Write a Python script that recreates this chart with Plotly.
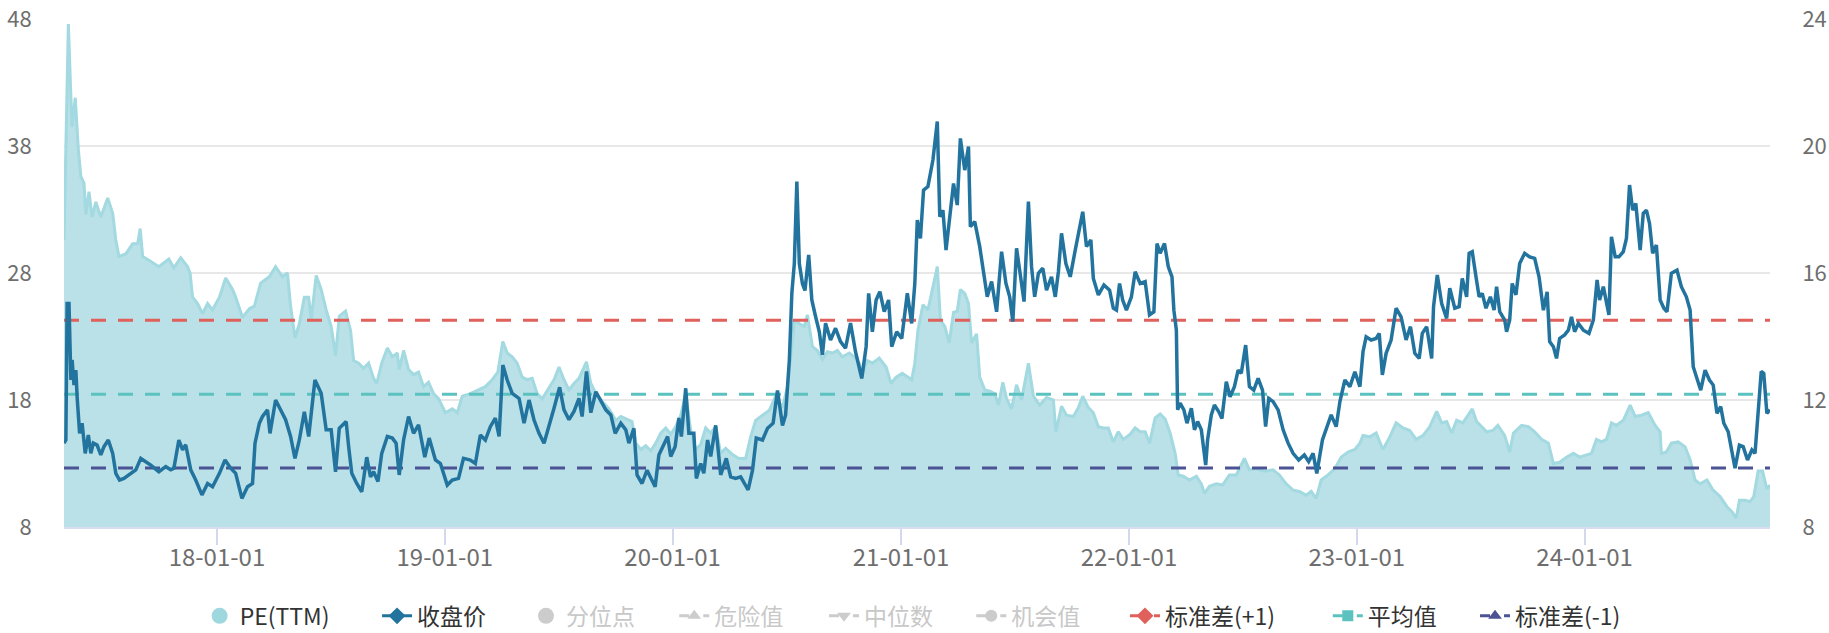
import plotly.graph_objects as go

# ---- PE(TTM) series (left axis) ----
pe_dates = [
    "2017-05-01", "2017-05-08", "2017-05-12", "2017-05-14", "2017-05-19", "2017-05-24", "2017-05-28",
    "2017-06-02", "2017-06-05", "2017-06-10", "2017-06-15", "2017-06-21", "2017-06-29", "2017-07-10",
    "2017-07-18", "2017-07-23", "2017-07-28", "2017-08-08", "2017-08-19", "2017-08-27", "2017-08-31",
    "2017-09-04", "2017-09-14", "2017-09-30", "2017-10-16", "2017-10-24", "2017-11-04", "2017-11-15",
    "2017-11-19", "2017-11-23", "2017-12-01", "2017-12-09", "2017-12-17", "2017-12-25", "2018-01-05",
    "2018-01-15", "2018-01-26", "2018-01-31", "2018-02-11", "2018-02-22", "2018-03-02", "2018-03-12",
    "2018-03-26", "2018-04-05", "2018-04-16", "2018-04-24", "2018-04-29", "2018-05-06", "2018-05-13",
    "2018-05-21", "2018-05-28", "2018-06-01", "2018-06-09", "2018-06-17", "2018-06-25", "2018-07-03",
    "2018-07-10", "2018-07-16", "2018-07-26", "2018-08-03", "2018-08-08", "2018-08-16", "2018-08-24",
    "2018-09-01", "2018-09-09", "2018-09-14", "2018-09-22", "2018-10-01", "2018-10-09", "2018-10-17",
    "2018-10-20", "2018-10-27", "2018-11-04", "2018-11-12", "2018-11-20", "2018-11-28", "2018-12-06",
    "2018-12-14", "2018-12-22", "2019-01-02", "2019-01-13", "2019-01-21", "2019-01-29", "2019-02-11",
    "2019-02-24", "2019-03-07", "2019-03-18", "2019-03-27", "2019-04-04", "2019-04-11", "2019-04-19",
    "2019-04-27", "2019-05-05", "2019-05-13", "2019-05-21", "2019-05-29", "2019-06-06", "2019-06-14",
    "2019-06-25", "2019-07-03", "2019-07-11", "2019-07-19", "2019-07-27", "2019-08-04", "2019-08-16",
    "2019-08-23", "2019-08-31", "2019-09-10", "2019-09-21", "2019-10-02", "2019-10-10", "2019-10-28",
    "2019-11-03", "2019-11-11", "2019-11-19", "2019-11-27", "2019-12-05", "2019-12-13", "2019-12-21",
    "2019-12-29", "2020-01-06", "2020-01-14", "2020-01-22", "2020-01-30", "2020-02-07", "2020-02-15",
    "2020-02-23", "2020-03-02", "2020-03-10", "2020-03-18", "2020-03-26", "2020-04-06", "2020-04-16",
    "2020-04-27", "2020-05-05", "2020-05-13", "2020-05-24", "2020-06-04", "2020-06-14", "2020-06-25",
    "2020-07-03", "2020-07-08", "2020-07-14", "2020-07-22", "2020-07-30", "2020-08-04", "2020-08-12",
    "2020-08-20", "2020-08-28", "2020-09-05", "2020-09-13", "2020-09-21", "2020-09-29", "2020-10-10",
    "2020-10-18", "2020-10-26", "2020-10-31", "2020-11-08", "2020-11-16", "2020-11-27", "2020-12-08",
    "2020-12-16", "2020-12-24", "2021-01-03", "2021-01-18", "2021-01-23", "2021-01-28", "2021-02-05",
    "2021-02-13", "2021-02-21", "2021-02-28", "2021-03-05", "2021-03-12", "2021-03-19", "2021-03-26",
    "2021-04-01", "2021-04-06", "2021-04-13", "2021-04-19", "2021-04-24", "2021-05-02", "2021-05-07",
    "2021-05-15", "2021-05-23", "2021-05-31", "2021-06-06", "2021-06-13", "2021-06-19", "2021-06-27",
    "2021-07-05", "2021-07-13", "2021-07-24", "2021-08-01", "2021-08-11", "2021-08-22", "2021-09-02",
    "2021-09-06", "2021-09-15", "2021-09-23", "2021-10-04", "2021-10-12", "2021-10-19", "2021-10-28",
    "2021-11-05", "2021-11-13", "2021-11-21", "2021-11-29", "2021-12-07", "2021-12-15", "2021-12-23",
    "2022-01-03", "2022-01-11", "2022-01-19", "2022-01-27", "2022-02-03", "2022-02-12", "2022-02-20",
    "2022-02-28", "2022-03-08", "2022-03-16", "2022-03-21", "2022-03-29", "2022-04-08", "2022-04-19",
    "2022-04-27", "2022-05-02", "2022-05-10", "2022-05-21", "2022-05-31", "2022-06-11", "2022-06-22",
    "2022-07-05", "2022-07-13", "2022-07-24", "2022-08-06", "2022-08-20", "2022-08-30", "2022-09-10",
    "2022-09-21", "2022-10-01", "2022-10-12", "2022-10-20", "2022-10-28", "2022-11-05", "2022-11-16",
    "2022-11-27", "2022-12-07", "2022-12-18", "2022-12-29", "2023-01-06", "2023-01-11", "2023-01-22",
    "2023-02-01", "2023-02-12", "2023-02-23", "2023-03-05", "2023-03-16", "2023-03-27", "2023-04-06",
    "2023-04-17", "2023-04-28", "2023-05-09", "2023-05-17", "2023-05-25", "2023-06-02", "2023-06-10",
    "2023-06-20", "2023-07-05", "2023-07-12", "2023-07-20", "2023-07-28", "2023-08-07", "2023-08-15",
    "2023-08-26", "2023-09-03", "2023-09-09", "2023-09-22", "2023-10-03", "2023-10-13", "2023-10-24",
    "2023-11-04", "2023-11-12", "2023-11-22", "2023-12-03", "2023-12-14", "2023-12-24", "2024-01-04",
    "2024-01-12", "2024-01-20", "2024-01-28", "2024-02-05", "2024-02-13", "2024-02-21", "2024-03-03",
    "2024-03-14", "2024-03-22", "2024-04-01", "2024-04-12", "2024-04-23", "2024-05-01", "2024-05-03",
    "2024-05-11", "2024-05-19", "2024-05-30", "2024-06-10", "2024-06-18", "2024-06-26", "2024-07-04",
    "2024-07-15", "2024-07-25", "2024-08-05", "2024-08-16", "2024-08-24", "2024-08-31", "2024-09-05",
    "2024-09-14", "2024-09-22", "2024-09-28", "2024-10-05", "2024-10-12", "2024-10-19", "2024-10-24",
]
pe_values = [
    30.6, 47.6, 41.9, 39.5, 41.8, 37.7, 35.6,
    35.1, 32.6, 34.4, 32.4, 33.6, 32.4, 33.9,
    32.7, 30.6, 29.3, 29.5, 30.3, 30.3, 31.5,
    29.3, 29.0, 28.5, 29.1, 28.4, 29.2, 28.5,
    28.0, 26.1, 25.6, 24.8, 25.6, 25.1, 26.1,
    27.6, 26.7, 26.1, 24.5, 25.2, 25.4, 27.2,
    27.7, 28.5, 27.7, 28.0, 25.4, 22.9, 24.0,
    26.1, 26.1, 24.3, 27.8, 26.7, 25.1, 23.8,
    21.5, 24.6, 25.0, 23.5, 21.1, 20.9, 20.5,
    20.9, 19.7, 19.3, 20.9, 22.1, 21.4, 21.7,
    20.4, 21.9, 20.4, 20.0, 20.2, 19.05, 19.4,
    18.5, 18.1, 17.0, 17.3, 17.0, 18.3, 18.5,
    18.8, 19.05, 19.6, 20.2, 22.6, 21.7, 21.4,
    20.9, 19.8, 19.6, 19.7, 18.5, 18.1, 18.7,
    19.6, 20.6, 19.6, 18.8, 19.3, 19.7, 21.0,
    19.3, 18.5, 17.9, 17.3, 16.4, 16.7, 16.3,
    14.6, 14.1, 14.4, 14.0, 14.6, 15.4, 15.8,
    15.3, 15.9, 16.8, 18.5, 15.6, 14.1, 14.5,
    15.8, 15.4, 15.9, 13.8, 14.2, 13.7, 13.4,
    13.4, 15.1, 16.4, 16.8, 17.2, 18.3, 17.4,
    19.05, 21.2, 24.3, 24.0, 23.8, 24.7, 22.2,
    21.9, 21.2, 21.8, 21.7, 21.9, 21.4, 21.7,
    21.4, 20.9, 20.0, 21.1, 20.9, 21.3, 20.6,
    19.3, 19.8, 20.1, 19.6, 20.9, 23.5, 25.5,
    25.1, 26.9, 28.5, 24.3, 23.8, 22.5, 24.9,
    25.0, 26.7, 26.4, 25.6, 22.5, 23.2, 19.8,
    18.8, 18.7, 18.5, 17.6, 19.4, 18.1, 17.3,
    19.2, 18.0, 20.9, 18.3, 17.6, 18.2, 18.0,
    15.5, 17.5, 16.8, 16.7, 17.4, 18.3, 17.4,
    17.0, 15.9, 15.8, 15.8, 14.7, 15.5, 14.9,
    15.3, 15.8, 15.5, 15.5, 14.6, 16.6, 16.9,
    16.5, 15.4, 13.8, 12.1, 12.0, 11.7, 12.0,
    11.4, 10.65, 11.2, 11.4, 11.3, 12.1, 12.1,
    13.4, 12.5, 12.6, 12.4, 12.5, 12.1, 11.4,
    10.9, 10.8, 10.5, 10.8, 10.26, 11.7, 12.1,
    12.6, 13.5, 13.9, 14.1, 14.6, 15.2, 15.1,
    15.4, 14.1, 15.1, 16.2, 15.8, 15.6, 14.9,
    15.2, 15.9, 17.1, 16.2, 16.3, 15.4, 16.4,
    16.2, 17.3, 16.3, 15.9, 15.5, 15.6, 16.0,
    15.2, 13.9, 15.4, 16.0, 15.9, 15.5, 14.9,
    14.6, 13.0, 13.1, 13.5, 13.8, 13.5, 13.7,
    13.8, 14.9, 14.7, 14.9, 16.2, 16.0, 16.4,
    17.6, 16.7, 16.8, 17.0, 16.0, 15.5, 13.8,
    13.9, 14.6, 14.7, 14.3, 13.3, 11.7, 11.4,
    11.7, 10.9, 10.4, 9.6, 9.2, 8.7, 10.1,
    10.1, 10.0, 10.4, 12.4, 12.4, 11.0, 11.3,
]

# ---- closing price series (right axis) ----
price_dates = [
    "2017-05-01", "2017-05-04", "2017-05-06", "2017-05-09", "2017-05-12", "2017-05-14", "2017-05-17",
    "2017-05-20", "2017-05-22", "2017-05-26", "2017-05-30", "2017-06-04", "2017-06-09", "2017-06-13",
    "2017-06-17", "2017-06-23", "2017-06-29", "2017-07-04", "2017-07-11", "2017-07-18", "2017-07-23",
    "2017-07-29", "2017-08-05", "2017-08-16", "2017-08-24", "2017-09-01", "2017-09-09", "2017-09-17",
    "2017-09-30", "2017-10-11", "2017-10-19", "2017-10-24", "2017-11-01", "2017-11-07", "2017-11-12",
    "2017-11-20", "2017-11-28", "2017-12-08", "2017-12-17", "2017-12-25", "2018-01-05", "2018-01-14",
    "2018-01-23", "2018-01-31", "2018-02-10", "2018-02-19", "2018-02-27", "2018-03-03", "2018-03-10",
    "2018-03-15", "2018-03-23", "2018-03-27", "2018-04-05", "2018-04-13", "2018-04-21", "2018-04-29",
    "2018-05-06", "2018-05-13", "2018-05-21", "2018-05-28", "2018-06-07", "2018-06-17", "2018-06-25",
    "2018-07-03", "2018-07-10", "2018-07-16", "2018-07-27", "2018-07-31", "2018-08-05", "2018-08-13",
    "2018-08-21", "2018-08-29", "2018-09-04", "2018-09-09", "2018-09-16", "2018-09-22", "2018-10-01",
    "2018-10-09", "2018-10-15", "2018-10-20", "2018-10-27", "2018-11-04", "2018-11-12", "2018-11-20",
    "2018-11-30", "2018-12-07", "2018-12-17", "2018-12-25", "2019-01-05", "2019-01-13", "2019-01-23",
    "2019-01-31", "2019-02-11", "2019-02-19", "2019-02-27", "2019-03-07", "2019-03-15", "2019-03-23",
    "2019-03-29", "2019-04-04", "2019-04-11", "2019-04-19", "2019-04-30", "2019-05-08", "2019-05-16",
    "2019-05-24", "2019-06-01", "2019-06-09", "2019-06-17", "2019-06-25", "2019-07-04", "2019-07-11",
    "2019-07-19", "2019-07-27", "2019-08-04", "2019-08-09", "2019-08-16", "2019-08-23", "2019-08-31",
    "2019-09-08", "2019-09-16", "2019-09-24", "2019-10-01", "2019-10-10", "2019-10-18", "2019-10-23",
    "2019-10-31", "2019-11-05", "2019-11-13", "2019-11-21", "2019-11-29", "2019-12-04", "2019-12-10",
    "2019-12-18", "2019-12-24", "2019-12-29", "2020-01-05", "2020-01-11", "2020-01-15", "2020-01-22",
    "2020-01-27", "2020-02-04", "2020-02-08", "2020-02-15", "2020-02-20", "2020-02-26", "2020-03-02",
    "2020-03-10", "2020-03-18", "2020-03-27", "2020-04-03", "2020-04-11", "2020-04-19", "2020-05-01",
    "2020-05-08", "2020-05-14", "2020-05-24", "2020-06-01", "2020-06-10", "2020-06-17", "2020-06-25",
    "2020-06-30", "2020-07-06", "2020-07-10", "2020-07-14", "2020-07-18", "2020-07-22", "2020-07-27",
    "2020-07-31", "2020-08-06", "2020-08-11", "2020-08-17", "2020-08-23", "2020-08-28", "2020-09-02",
    "2020-09-10", "2020-09-18", "2020-09-26", "2020-10-04", "2020-10-12", "2020-10-20", "2020-10-30",
    "2020-11-06", "2020-11-10", "2020-11-16", "2020-11-22", "2020-11-28", "2020-12-05", "2020-12-12",
    "2020-12-17", "2020-12-25", "2021-01-02", "2021-01-11", "2021-01-18", "2021-01-23", "2021-01-27",
    "2021-02-01", "2021-02-06", "2021-02-13", "2021-02-21", "2021-02-28", "2021-03-04", "2021-03-09",
    "2021-03-14", "2021-03-19", "2021-03-26", "2021-04-01", "2021-04-06", "2021-04-13", "2021-04-19",
    "2021-04-22", "2021-04-29", "2021-05-07", "2021-05-13", "2021-05-19", "2021-05-26", "2021-06-03",
    "2021-06-11", "2021-06-18", "2021-06-24", "2021-06-29", "2021-07-05", "2021-07-11", "2021-07-17",
    "2021-07-24", "2021-07-29", "2021-08-03", "2021-08-09", "2021-08-16", "2021-08-22", "2021-08-30",
    "2021-09-05", "2021-09-10", "2021-09-15", "2021-09-22", "2021-09-29", "2021-10-07", "2021-10-15",
    "2021-10-19", "2021-10-25", "2021-11-01", "2021-11-05", "2021-11-13", "2021-11-22", "2021-12-01",
    "2021-12-07", "2021-12-12", "2021-12-17", "2021-12-22", "2021-12-28", "2022-01-05", "2022-01-11",
    "2022-01-19", "2022-01-27", "2022-02-03", "2022-02-10", "2022-02-15", "2022-02-20", "2022-02-27",
    "2022-03-05", "2022-03-11", "2022-03-14", "2022-03-18", "2022-03-20", "2022-03-24", "2022-03-30",
    "2022-04-04", "2022-04-11", "2022-04-16", "2022-04-21", "2022-04-27", "2022-05-04", "2022-05-07",
    "2022-05-13", "2022-05-18", "2022-05-25", "2022-05-30", "2022-06-06", "2022-06-12", "2022-06-19",
    "2022-06-25", "2022-06-30", "2022-07-07", "2022-07-13", "2022-07-20", "2022-07-27", "2022-08-03",
    "2022-08-08", "2022-08-13", "2022-08-20", "2022-08-28", "2022-09-05", "2022-09-13", "2022-09-21",
    "2022-09-30", "2022-10-09", "2022-10-16", "2022-10-23", "2022-10-29", "2022-11-07", "2022-11-13",
    "2022-11-21", "2022-11-29", "2022-12-05", "2022-12-13", "2022-12-21", "2022-12-29", "2023-01-06",
    "2023-01-11", "2023-01-16", "2023-01-24", "2023-02-01", "2023-02-06", "2023-02-11", "2023-02-17",
    "2023-02-25", "2023-03-05", "2023-03-13", "2023-03-21", "2023-03-28", "2023-04-04", "2023-04-11",
    "2023-04-16", "2023-04-23", "2023-05-01", "2023-05-04", "2023-05-10", "2023-05-17", "2023-05-25",
    "2023-05-30", "2023-06-07", "2023-06-14", "2023-06-19", "2023-06-26", "2023-06-30", "2023-07-05",
    "2023-07-11", "2023-07-16", "2023-07-21", "2023-07-27", "2023-08-03", "2023-08-09", "2023-08-13",
    "2023-08-18", "2023-08-26", "2023-08-29", "2023-09-03", "2023-09-07", "2023-09-13", "2023-09-19",
    "2023-09-27", "2023-10-05", "2023-10-13", "2023-10-20", "2023-10-27", "2023-11-02", "2023-11-06",
    "2023-11-12", "2023-11-17", "2023-11-22", "2023-11-30", "2023-12-06", "2023-12-11", "2023-12-16",
    "2023-12-22", "2023-12-30", "2024-01-08", "2024-01-15", "2024-01-21", "2024-01-25", "2024-01-31",
    "2024-02-05", "2024-02-09", "2024-02-13", "2024-02-19", "2024-02-25", "2024-03-03", "2024-03-08",
    "2024-03-13", "2024-03-18", "2024-03-23", "2024-03-30", "2024-04-04", "2024-04-09", "2024-04-14",
    "2024-04-19", "2024-04-25", "2024-05-01", "2024-05-07", "2024-05-12", "2024-05-19", "2024-05-28",
    "2024-06-04", "2024-06-12", "2024-06-18", "2024-06-23", "2024-06-30", "2024-07-05", "2024-07-12",
    "2024-07-19", "2024-07-25", "2024-07-31", "2024-08-06", "2024-08-11", "2024-08-18", "2024-08-24",
    "2024-08-29", "2024-09-05", "2024-09-11", "2024-09-18", "2024-09-25", "2024-09-30", "2024-10-05",
    "2024-10-10", "2024-10-14", "2024-10-19", "2024-10-24",
]
price_values = [
    10.64, 10.74, 15.04, 15.04, 12.63, 13.26, 12.47,
    12.94, 12.10, 10.95, 11.27, 10.32, 10.90, 10.32,
    10.64, 10.58, 10.27, 10.53, 10.74, 10.32, 9.69,
    9.48, 9.53, 9.69, 9.80, 10.16, 10.06, 9.95,
    9.74, 9.90, 9.80, 9.85, 10.74, 10.43, 10.59,
    9.80, 9.48, 9.01, 9.37, 9.27, 9.69, 10.11,
    9.85, 9.69, 8.90, 9.27, 9.37, 10.64, 11.27,
    11.48, 11.69, 10.95, 12.00, 11.69, 11.38, 10.85,
    10.16, 10.74, 11.63, 10.85, 12.63, 12.21, 11.06,
    11.06, 9.74, 11.11, 11.32, 10.53, 9.69, 9.37,
    9.11, 10.20, 9.58, 9.74, 9.43, 10.32, 10.85,
    10.80, 10.64, 9.64, 10.74, 11.48, 10.95, 11.22,
    10.20, 10.80, 10.11, 10.00, 9.32, 9.48, 9.53,
    10.16, 10.11, 10.00, 10.90, 10.74, 11.16, 11.43,
    10.85, 13.10, 12.63, 12.21, 12.05, 11.27, 12.00,
    11.37, 10.95, 10.64, 11.16, 11.74, 12.40, 11.69,
    11.38, 11.64, 12.05, 11.48, 12.90, 11.60, 12.26,
    11.95, 11.69, 11.53, 10.95, 11.27, 11.06, 10.64,
    11.11, 9.64, 9.37, 9.79, 9.48, 9.27, 10.27,
    10.59, 10.85, 10.22, 10.53, 11.43, 10.85, 12.37,
    10.95, 10.95, 9.53, 10.00, 9.69, 10.74, 10.22,
    11.20, 9.64, 10.16, 9.58, 9.53, 9.58, 9.17,
    9.79, 10.80, 10.74, 11.11, 11.27, 12.30, 11.20,
    11.53, 13.26, 15.36, 16.30, 18.88, 16.30, 15.66,
    15.45, 16.57, 15.15, 14.63, 14.15, 13.42, 14.42,
    13.89, 14.26, 13.84, 13.63, 14.42, 13.52, 12.68,
    13.68, 15.36, 14.15, 15.15, 15.41, 14.78, 15.15,
    13.68, 14.15, 13.94, 15.36, 14.41, 15.67, 17.67,
    17.09, 18.61, 18.72, 19.56, 20.77, 17.77, 17.98,
    16.72, 17.56, 18.82, 18.14, 20.24, 19.24, 19.98,
    17.46, 17.62, 16.83, 16.09, 15.25, 15.73, 14.78,
    16.67, 15.67, 15.25, 14.47, 16.78, 15.99, 15.10,
    18.25, 16.20, 15.25, 15.99, 16.15, 15.46, 15.88,
    15.25, 16.04, 17.25, 16.30, 15.88, 16.72, 17.56,
    17.93, 16.83, 17.04, 15.83, 15.31, 15.62, 15.46,
    14.89, 14.83, 15.67, 15.15, 14.83, 15.25, 16.04,
    15.67, 15.73, 14.68, 14.78, 16.93, 16.62, 16.93,
    16.20, 15.88, 14.83, 14.20, 11.69, 11.90, 11.69,
    11.27, 11.74, 11.06, 11.32, 11.06, 9.95, 10.74,
    11.53, 11.84, 11.63, 11.42, 12.58, 12.10, 12.42,
    12.94, 12.84, 13.73, 12.42, 12.31, 12.68, 12.31,
    11.16, 12.05, 11.95, 11.69, 11.06, 10.64, 10.32,
    10.11, 10.27, 10.06, 10.32, 9.69, 10.74, 11.11,
    11.53, 11.16, 11.95, 12.63, 12.42, 12.89, 12.42,
    13.52, 13.99, 13.89, 13.94, 14.10, 12.79, 13.47,
    13.89, 14.89, 14.62, 13.89, 14.31, 13.47, 13.31,
    14.10, 14.31, 13.31, 14.94, 15.94, 15.04, 14.57,
    15.52, 14.89, 14.94, 15.83, 15.25, 16.62, 16.67,
    15.88, 15.25, 15.36, 14.89, 15.25, 14.83, 15.57,
    14.78, 14.52, 14.15, 14.52, 15.67, 15.31, 16.30,
    16.62, 16.51, 16.46, 15.88, 14.83, 15.41, 13.84,
    13.68, 13.31, 13.94, 14.05, 14.20, 14.62, 14.15,
    14.41, 14.20, 14.10, 14.52, 15.78, 15.15, 15.57,
    15.04, 14.68, 17.14, 16.51, 16.51, 16.67, 17.09,
    18.77, 17.98, 18.19, 16.72, 17.88, 17.98, 17.56,
    16.62, 16.88, 15.15, 14.89, 14.78, 15.99, 16.09,
    15.57, 15.25, 14.83, 13.05, 12.63, 12.31, 12.94,
    12.63, 12.47, 11.58, 11.79, 11.27, 11.00, 10.32,
    9.85, 10.58, 10.53, 10.11, 10.43, 10.32, 11.79,
    12.90, 12.84, 11.58, 11.69,
]

# ---- PE statistics ----
pe_mean = 18.46
pe_std = 5.81

# ---- axis ticks ----
left_ticks = [8, 18, 28, 38, 48]
right_ticks = [8, 12, 16, 20, 24]

# ---- colours ----
PE_FILL = "#b9e1e7"
PE_LINE = "#a3d9e0"
PE_DOT = "#9fd7de"
PRICE = "#22749f"
RED = "#e0605c"
TEAL = "#5cc2bf"
NAVY = "#4b5394"
GREY = "#cccccc"
DASH = "15px,12px"
FONT = "Noto Sans CJK SC"

fig = go.Figure()

# PE area
fig.add_trace(go.Scatter(
    x=pe_dates, y=pe_values, mode="lines",
    line=dict(color=PE_LINE, width=3),
    fill="tozeroy", fillcolor=PE_FILL,
    showlegend=False, hoverinfo="skip",
))

# mean and +/- one standard deviation reference lines
x_span = [pe_dates[0], pe_dates[-1]]
for level, color in [(pe_mean + pe_std, RED), (pe_mean, TEAL), (pe_mean - pe_std, NAVY)]:
    fig.add_trace(go.Scatter(
        x=x_span, y=[level, level], mode="lines",
        line=dict(color=color, width=3, dash=DASH),
        showlegend=False, hoverinfo="skip",
    ))

# closing price on the right axis
fig.add_trace(go.Scatter(
    x=price_dates, y=price_values, mode="lines", yaxis="y2",
    line=dict(color=PRICE, width=3.5),
    showlegend=False, hoverinfo="skip",
))


def grey(txt):
    return f"<span style='color:#c8c8c8'>{txt}</span>"


LEG_DASH = "10px,14px"
legend_items = [
    ("PE(TTM)", dict(mode="markers", marker=dict(symbol="circle", size=16, color=PE_DOT))),
    ("收盘价", dict(mode="lines+markers", line=dict(color=PRICE, width=3),
                  marker=dict(symbol="diamond", size=13, color=PRICE))),
    (grey("分位点"), dict(mode="markers", marker=dict(symbol="circle", size=16, color=GREY))),
    (grey("危险值"), dict(mode="lines+markers", line=dict(color=GREY, width=3, dash=LEG_DASH),
                        marker=dict(symbol="triangle-up", size=12, color=GREY))),
    (grey("中位数"), dict(mode="lines+markers", line=dict(color=GREY, width=3, dash=LEG_DASH),
                        marker=dict(symbol="triangle-down", size=12, color=GREY))),
    (grey("机会值"), dict(mode="lines+markers", line=dict(color=GREY, width=3, dash=LEG_DASH),
                        marker=dict(symbol="circle", size=12, color=GREY))),
    ("标准差(+1)", dict(mode="lines+markers", line=dict(color=RED, width=3, dash=LEG_DASH),
                     marker=dict(symbol="diamond", size=13, color=RED))),
    ("平均值", dict(mode="lines+markers", line=dict(color=TEAL, width=3, dash=LEG_DASH),
                  marker=dict(symbol="square", size=11, color=TEAL))),
    ("标准差(-1)", dict(mode="lines+markers", line=dict(color=NAVY, width=3, dash=LEG_DASH),
                     marker=dict(symbol="triangle-up", size=12, color=NAVY))),
]
legend_x = [0.0795, 0.1835, 0.2708, 0.3577, 0.4455, 0.5318, 0.6219, 0.7408, 0.8271]

legend_layouts = {}
for i, ((name, style), lx) in enumerate(zip(legend_items, legend_x)):
    key = "legend" if i == 0 else f"legend{i + 1}"
    fig.add_trace(go.Scatter(x=[None], y=[None], name=name, legend=key,
                             showlegend=True, hoverinfo="skip", **style))
    legend_layouts[key] = dict(
        x=lx, xanchor="left", y=-0.175, yanchor="middle",
        orientation="h", bgcolor="rgba(0,0,0,0)",
        font=dict(family=FONT, size=23, color="#333333"),
    )

fig.update_layout(
    width=1829, height=633,
    margin=dict(l=64, r=59, t=19, b=106, autoexpand=False),
    paper_bgcolor="white", plot_bgcolor="white",
    font=dict(family=FONT, size=22, color="#6e6e6e"),
    xaxis=dict(
        type="date", range=x_span, automargin=False,
        tick0="2018-01-01", dtick="M12", tickformat="%y-%m-%d",
        tickfont=dict(size=24), ticklabelstandoff=-8,
        ticks="outside", ticklen=16, tickwidth=2, tickcolor="#d3d8ef",
        showline=True, linecolor="#d9ddef", linewidth=2,
        showgrid=False, zeroline=False,
    ),
    yaxis=dict(
        range=[8, 48], tickvals=left_ticks, automargin=False,
        showgrid=True, gridcolor="#e8e8e8", gridwidth=2,
        ticks="outside", ticklen=27, tickcolor="rgba(0,0,0,0)",
        zeroline=False, showline=False,
    ),
    yaxis2=dict(
        range=[8, 24], tickvals=right_ticks, overlaying="y", side="right",
        automargin=False, showgrid=False, zeroline=False, showline=False,
        ticks="outside", ticklen=27, tickcolor="rgba(0,0,0,0)",
    ),
    **legend_layouts,
)

fig.write_html("out.html")
